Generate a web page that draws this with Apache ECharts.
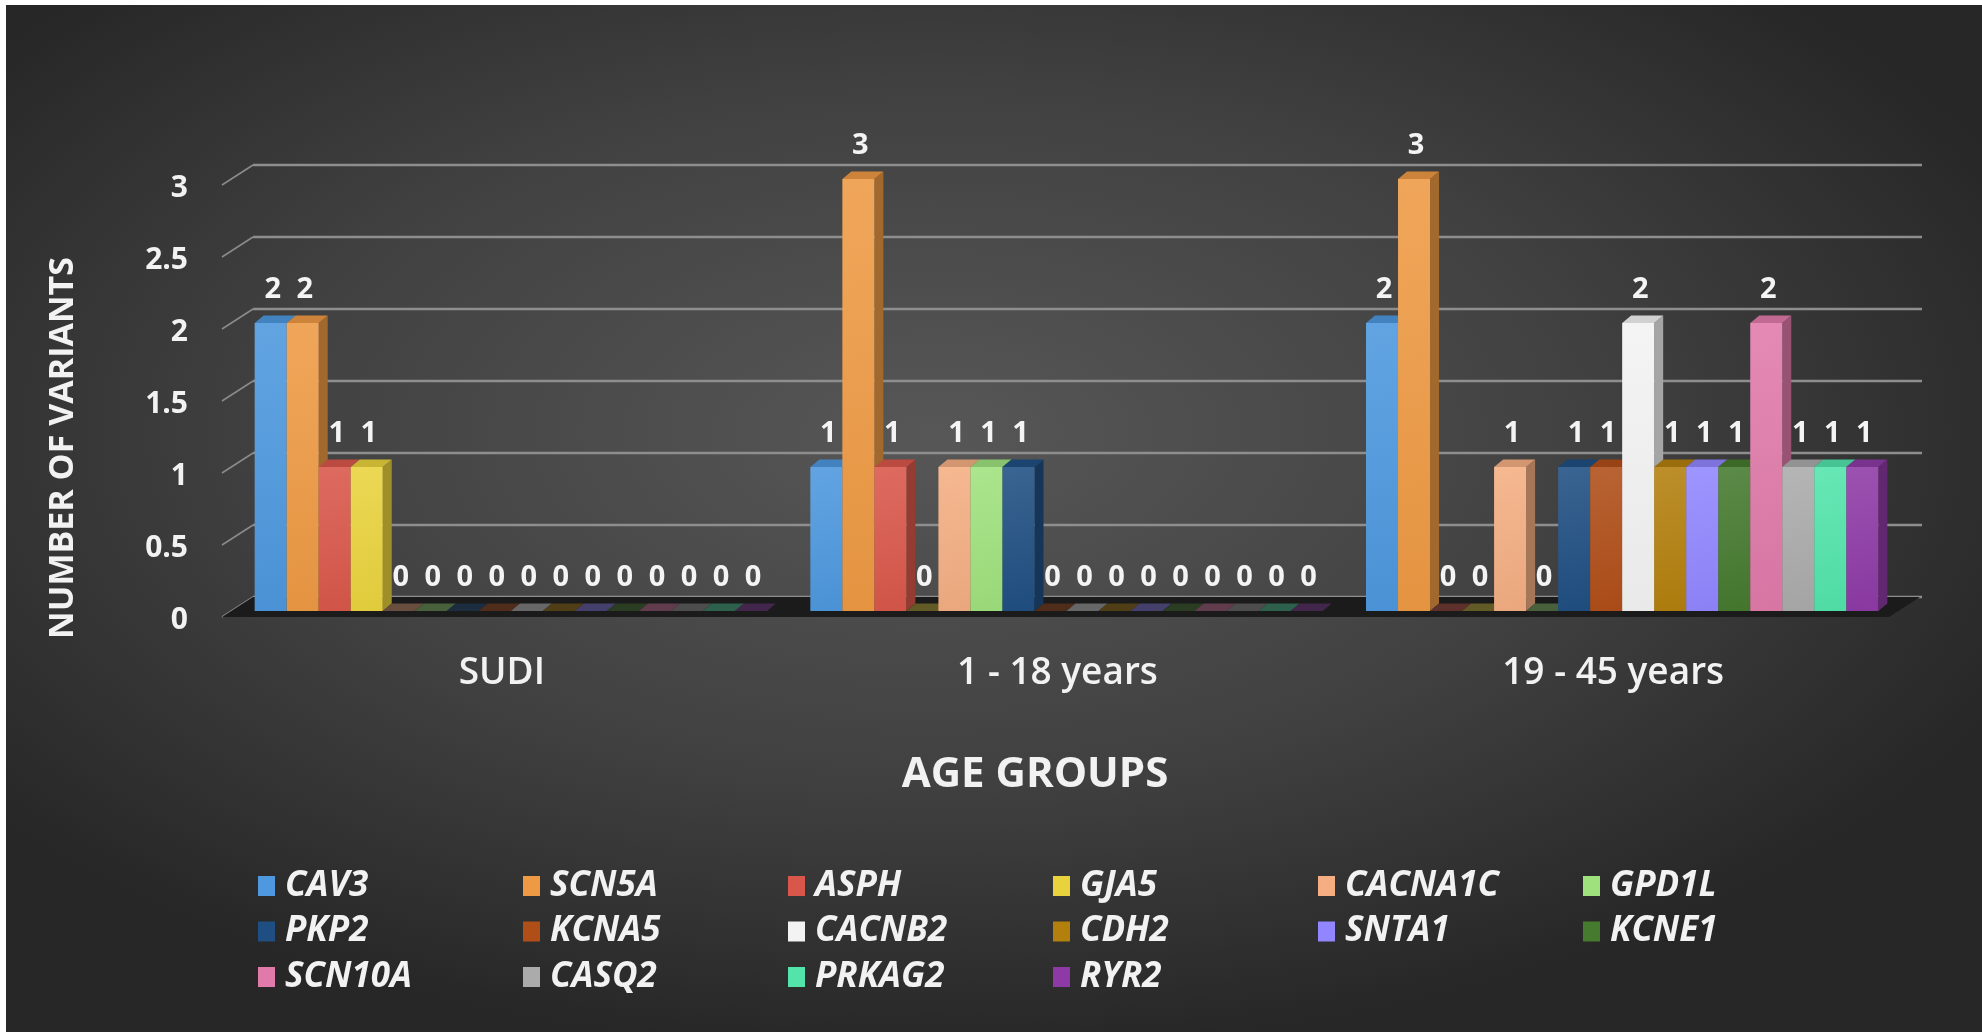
<!DOCTYPE html>
<html>
<head>
<meta charset="utf-8">
<title>Number of variants by age group</title>
<script src="https://cdn.jsdelivr.net/npm/echarts@6/dist/echarts.min.js"></script>
<style>
  html, body { margin: 0; padding: 0; background: #ffffff; }
  #chart { width: 1982px; height: 1032px; }
</style>
</head>
<body>
<div id="chart"></div>
<script>
// Age groups on the category axis
const categories = ['SUDI', '1 - 18 years', '19 - 45 years'];

// Genes, one bar each per age group
const genes = ['CAV3', 'SCN5A', 'ASPH', 'GJA5', 'CACNA1C', 'GPD1L',
               'PKP2', 'KCNA5', 'CACNB2', 'CDH2', 'SNTA1', 'KCNE1',
               'SCN10A', 'CASQ2', 'PRKAG2', 'RYR2'];

// Variant counts per age group, in gene order
const sudiCounts     = [2, 2, 1, 1, 0, 0, 0, 0, 0, 0, 0, 0, 0, 0, 0, 0];
const age1to18Counts = [1, 3, 1, 0, 1, 1, 1, 0, 0, 0, 0, 0, 0, 0, 0, 0];
const age19to45Counts = [2, 3, 0, 0, 1, 0, 1, 1, 2, 1, 1, 1, 2, 1, 1, 1];

// Value axis ticks
const valueTicks = [0, 0.5, 1, 1.5, 2, 2.5, 3];

const geneColors = ['#4d98de', '#ee9a44', '#d9574a', '#e9d33d', '#f4ae82', '#9fe17d',
                    '#1f4f82', '#b04e18', '#f3f3f3', '#b3800e', '#9186ff', '#467a2f',
                    '#e07aaa', '#ababab', '#52e4ab', '#8e3aa6'];

const FONT = "'Open Sans', 'Noto Sans', sans-serif";

// Oblique 3D offsets (pixels)
const BAR_DX = 9, BAR_DY = -7.5;      // bar depth
const WALL_DX = 20, WALL_DY = -14;    // back wall relative to bar fronts
const EDGE_DX = -11, EDGE_DY = 6;     // floor front edge relative to bar fronts
const CLUSTER_FRAC = 0.922;

function shade(hex, f) {
  const n = parseInt(hex.slice(1), 16);
  let r = (n >> 16) & 255, g = (n >> 8) & 255, b = n & 255;
  if (f <= 1) { r *= f; g *= f; b *= f; }
  else { const t = f - 1; r += (255 - r) * t; g += (255 - g) * t; b += (255 - b) * t; }
  return 'rgb(' + Math.round(r) + ',' + Math.round(g) + ',' + Math.round(b) + ')';
}
function mix(hex, bg, t) {
  const a = parseInt(hex.slice(1), 16), c = parseInt(bg.slice(1), 16);
  const ch = (v, s) => (v >> s) & 255;
  const m = s => Math.round(ch(a, s) * t + ch(c, s) * (1 - t));
  return 'rgb(' + m(16) + ',' + m(8) + ',' + m(0) + ')';
}

const countsByCategory = [sudiCounts, age1to18Counts, age19to45Counts];

// Back wall grid lines, diagonal ticks, tick labels on the floor's front edge, and the floor
const wallSeries = {
  type: 'custom',
  name: '__walls',
  silent: true,
  z: 1,
  data: valueTicks.map(v => [0, v]),
  encode: { x: 0, y: 1 },
  renderItem: function (params, api) {
    const cs = params.coordSys;
    const L = cs.x, R = cs.x + cs.width;
    const v = api.value(1);
    const y = api.coord([0, v])[1];
    const children = [
      { type: 'line', shape: { x1: L + WALL_DX, y1: y + WALL_DY, x2: R + WALL_DX + 2, y2: y + WALL_DY },
        style: { stroke: '#8e8e8e', lineWidth: 2.5 } },
      { type: 'line', shape: { x1: L + EDGE_DX, y1: y + EDGE_DY, x2: L + WALL_DX, y2: y + WALL_DY },
        style: { stroke: '#8a8a8a', lineWidth: 1.6 } },
      { type: 'text', z2: 50,
        style: { x: L - 45, y: y + EDGE_DY + 3, text: String(v), fill: '#f2f2f2',
                 font: 'bold 30px ' + FONT, align: 'right', verticalAlign: 'middle' } }
    ];
    if (v === 0) {
      children.push({
        type: 'polygon',
        shape: { points: [[L + EDGE_DX, y + EDGE_DY], [R + EDGE_DX, y + EDGE_DY],
                          [R + WALL_DX, y + WALL_DY], [L + WALL_DX, y + WALL_DY]] },
        style: { fill: '#1b1b1b' }
      });
    }
    return { type: 'group', children: children };
  }
};

function barSeries(idx) {
  const base = geneColors[idx];
  return {
    type: 'custom',
    name: genes[idx],
    z: 2,
    itemStyle: { color: base },
    data: categories.map((c, ci) => [ci, countsByCategory[ci][idx]]),
    encode: { x: 0, y: 1 },
    renderItem: function (params, api) {
      const ci = api.value(0), v = api.value(1);
      const p0 = api.coord([ci, 0]);
      const p1 = api.coord([ci, v]);
      const band = api.size([1, 0])[0];
      const cw = band * CLUSTER_FRAC;
      const bw = cw / genes.length;
      const x0 = p0[0] - cw / 2 + idx * bw, x1 = x0 + bw;
      const yB = p0[1], yT = p1[1];
      const children = [];
      if (v > 0) {
        children.push({
          type: 'polygon',
          shape: { points: [[x1, yT], [x1 + BAR_DX, yT + BAR_DY], [x1 + BAR_DX, yB + BAR_DY], [x1, yB]] },
          style: { fill: shade(base, 0.68) }
        });
        children.push({
          type: 'polygon',
          shape: { points: [[x0, yT], [x1, yT], [x1 + BAR_DX, yT + BAR_DY], [x0 + BAR_DX, yT + BAR_DY]] },
          style: { fill: shade(base, 0.86) }
        });
        children.push({
          type: 'rect',
          shape: { x: x0, y: yT, width: bw, height: yB - yT },
          style: {
            fill: {
              type: 'linear', x: 0, y: 0, x2: 1, y2: 1,
              colorStops: [{ offset: 0, color: shade(base, 1.12) }, { offset: 1, color: shade(base, 0.96) }]
            }
          }
        });
      } else {
        children.push({
          type: 'polygon',
          shape: { points: [[x0, yT], [x1, yT], [x1 + BAR_DX, yT + BAR_DY], [x0 + BAR_DX, yT + BAR_DY]] },
          style: { fill: mix(base, '#1b1b1b', 0.35) }
        });
      }
      children.push({
        type: 'text',
        z2: 100,
        style: {
          x: x0 + bw / 2 + 2, y: yT - 33,
          text: String(v),
          fill: '#f4f4f4',
          font: 'bold 29px ' + FONT,
          align: 'center', verticalAlign: 'middle'
        }
      });
      return { type: 'group', children: children };
    }
  };
}

// Legend laid out in six columns of up to three rows
const legendCols = 6;
const legends = [];
for (let c = 0; c < legendCols; c++) {
  const items = genes.filter((g, i) => i % legendCols === c);
  legends.push({
    orient: 'vertical',
    left: 258 + c * 265,
    top: 868,
    padding: 0,
    icon: 'rect',
    itemWidth: 17,
    itemHeight: 20,
    itemGap: 9.5,
    selectedMode: false,
    data: items,
    textStyle: {
      color: '#f2f2f2', fontSize: 35, fontStyle: 'italic', fontWeight: 'bold',
      fontFamily: FONT, lineHeight: 36, padding: [0, 0, 0, 5]
    }
  });
}

const chart = echarts.init(document.getElementById('chart'), null, { renderer: 'canvas' });
chart.setOption({
  backgroundColor: '#2b2b2b',
  animation: false,
  graphic: [
    {
      type: 'rect', z: -100, silent: true,
      shape: { x: 0, y: 0, width: 1982, height: 1982 },
      scaleY: 1032 / 1982,
      style: {
        fill: {
          type: 'radial', x: 0.47, y: 0.42, r: 0.6,
          colorStops: [
            { offset: 0, color: '#575757' },
            { offset: 0.55, color: '#414141' },
            { offset: 1, color: '#272727' }
          ]
        }
      }
    },
    { type: 'rect', z: 100, silent: true, shape: { x: 0, y: 0, width: 6, height: 1032 }, style: { fill: '#ffffff' } },
    { type: 'rect', z: 100, silent: true, shape: { x: 0, y: 0, width: 1982, height: 5 }, style: { fill: '#ffffff' } },
    {
      type: 'text', z: 10, silent: true,
      x: 63, y: 448, rotation: Math.PI / 2,
      style: {
        text: 'NUMBER OF VARIANTS', fill: '#f2f2f2',
        font: 'bold 34px ' + FONT, align: 'center', verticalAlign: 'middle'
      }
    },
    {
      type: 'text', z: 10, silent: true,
      x: 1035, y: 775,
      style: {
        text: 'AGE GROUPS', fill: '#f2f2f2',
        font: 'bold 42px ' + FONT, align: 'center', verticalAlign: 'middle'
      }
    }
  ],
  legend: legends,
  grid: { left: 233, right: 82, top: 179, bottom: 421, containLabel: false },
  xAxis: {
    type: 'category',
    data: categories,
    axisLine: { show: false },
    axisTick: { show: false },
    splitLine: { show: false },
    axisLabel: {
      color: '#f2f2f2', fontSize: 37, fontWeight: 600, fontFamily: FONT,
      margin: 62, verticalAlign: 'middle', padding: [0, 18, 0, 0]
    }
  },
  yAxis: {
    type: 'value',
    min: valueTicks[0],
    max: valueTicks[valueTicks.length - 1],
    interval: valueTicks[1] - valueTicks[0],
    axisLine: { show: false },
    axisTick: { show: false },
    splitLine: { show: false },
    axisLabel: { show: false }
  },
  series: [wallSeries].concat(genes.map((g, i) => barSeries(i)))
});
</script>
</body>
</html>
